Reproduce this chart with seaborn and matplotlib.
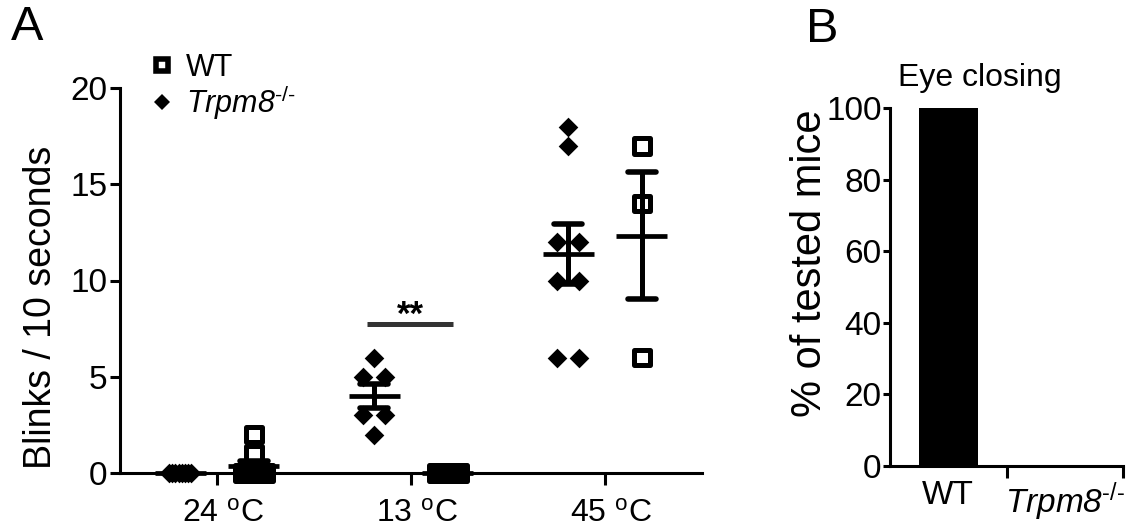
import numpy as np
import pandas as pd
import matplotlib
matplotlib.use("Agg")
import matplotlib.pyplot as plt
import matplotlib.transforms as mtransforms
from matplotlib.lines import Line2D
import seaborn as sns

# ---------------- data ----------------
temp_labels = [r"24 $^{\rm o}$C", r"13 $^{\rm o}$C", r"45 $^{\rm o}$C"]
trpm8_24 = [0, 0, 0, 0, 0, 0, 0, 0]
wt_24 = [2, 1, 0, 0, 0, 0, 0, 0]
trpm8_13 = [6, 5, 5, 3, 3, 2]
wt_13 = [0, 0, 0, 0, 0, 0, 0, 0]
trpm8_45 = [18, 17, 12, 12, 10, 10, 6, 6]
wt_45 = [17, 14, 6]
genotypes_b = ["WT", "Trpm8"]
eye_closing_pct = [100, 0]

KO_LABEL = r"Trpm8$^{\text{-/-}}$"

# ---------------- style ----------------
sns.set_style("ticks")
plt.rcParams["font.family"] = ["Liberation Sans", "DejaVu Sans"]
plt.rcParams["mathtext.fontset"] = "custom"
plt.rcParams["mathtext.rm"] = "Liberation Sans"
plt.rcParams["mathtext.it"] = "Liberation Sans:italic"
plt.rcParams["mathtext.bf"] = "Liberation Sans:bold"
plt.rcParams["axes.linewidth"] = 2.2
plt.rcParams["axes.edgecolor"] = "black"
plt.rcParams["xtick.color"] = "black"
plt.rcParams["ytick.color"] = "black"
plt.rcParams["xtick.labelcolor"] = "black"
plt.rcParams["ytick.labelcolor"] = "black"
plt.rcParams["xtick.major.width"] = 2.2
plt.rcParams["ytick.major.width"] = 2.2
plt.rcParams["xtick.minor.width"] = 2.2
plt.rcParams["text.color"] = "black"

W, H = 1137, 529
fig = plt.figure(figsize=(W / 100, H / 100), dpi=100)

def fx(px):
    return px / W

def fy(py):
    return 1 - py / H

# ---------------- Panel A ----------------
axA = fig.add_axes([fx(120), fy(473), fx(702) - fx(120), fy(88) - fy(473)])

groups = [
    (0, "Trpm8", trpm8_24), (0, "WT", wt_24),
    (1, "Trpm8", trpm8_13), (1, "WT", wt_13),
    (2, "Trpm8", trpm8_45), (2, "WT", wt_45),
]
offset = {"Trpm8": -0.19, "WT": 0.19}

rows = []
for ci, geno, vals in groups:
    center = ci + offset[geno]
    vals = np.asarray(vals, dtype=float)
    xs = np.zeros(len(vals))
    for v in np.unique(vals):
        idx = np.where(vals == v)[0]
        k = len(idx)
        span = min((k - 1) * 0.118, 0.115)
        xs[idx] = center + (np.linspace(-span / 2, span / 2, k) if k > 1 else 0)
    for x, v in zip(xs, vals):
        rows.append({"cat": ci, "geno": geno, "x": x, "value": v})
df = pd.DataFrame(rows)

sns.scatterplot(data=df[df.geno == "Trpm8"], x="x", y="value", marker="D",
                s=100, color="black", linewidth=0, ax=axA, legend=False,
                clip_on=False, zorder=3)
sns.scatterplot(data=df[df.geno == "WT"], x="x", y="value", marker="s",
                s=130, color="black", linewidth=3.6, ax=axA, legend=False,
                clip_on=False, zorder=3)
axA.collections[-1].set_facecolor("none")
axA.collections[-1].set_edgecolor("black")

# mean +/- SEM
for ci, geno, vals in groups:
    v = np.asarray(vals, dtype=float)
    m = v.mean()
    sem = v.std(ddof=1) / np.sqrt(len(v))
    c = ci + offset[geno]
    axA.hlines(m, c - 0.131, c + 0.131, colors="black", linewidth=3.4,
               zorder=4, clip_on=False)
    if sem > 0:
        axA.vlines(c, m - sem, m + sem, colors="black", linewidth=3.6, zorder=4)
        caps = axA.hlines([m - sem, m + sem], c - 0.072, c + 0.072,
                          colors="black", linewidth=4.0, zorder=4)
        caps.set_capstyle("round")

# significance bar
axA.plot([0.773, 1.216], [7.74, 7.74], color="#333333", linewidth=3.6,
         solid_capstyle="butt", zorder=4)
axA.text(0.995, 7.68, "**", ha="center", va="baseline", fontsize=25,
         fontweight="bold")

axA.set_xlim(-0.5, 2.5)
axA.set_ylim(0, 20)
axA.set_yticks([0, 5, 10, 15, 20])
axA.set_xticks([0, 1, 2])
axA.set_xticklabels(temp_labels)
axA.set_xlabel("")
axA.set_ylabel("")
axA.tick_params(axis="y", length=7, pad=2, labelsize=24)
axA.tick_params(axis="x", length=8.6, pad=10, labelsize=23)
shift = mtransforms.ScaledTranslation(6 / 100, 0, fig.dpi_scale_trans)
for lab in axA.get_xticklabels():
    lab.set_transform(lab.get_transform() + shift)
sns.despine(ax=axA)

handles = [
    Line2D([], [], linestyle="none", marker="s", markersize=9,
           markerfacecolor="none", markeredgecolor="black", markeredgewidth=4),
    Line2D([], [], linestyle="none", marker="D", markersize=8.5,
           markerfacecolor="black", markeredgecolor="black", markeredgewidth=0),
]
leg = axA.legend(handles, ["WT", KO_LABEL], loc="upper left",
                 bbox_to_anchor=(fx(148), fy(53)), bbox_transform=fig.transFigure,
                 frameon=False, fontsize=22, handlelength=0.9, handletextpad=0.35,
                 labelspacing=0.0, borderpad=0, borderaxespad=0)
leg.get_texts()[1].set_fontstyle("italic")

fig.text(fx(27), fy(27), "A", fontsize=35, ha="center", va="center")
fig.text(fx(41), fy(307), "Blinks / 10 seconds", fontsize=27, rotation=90,
         ha="center", va="center")

# ---------------- Panel B ----------------
axB = fig.add_axes([fx(890), fy(466), fx(1123) - fx(890), fy(108) - fy(466)])
df_b = pd.DataFrame({"genotype": genotypes_b, "pct": eye_closing_pct})
sns.barplot(data=df_b, x="genotype", y="pct", color="black", saturation=1,
            width=0.51, linewidth=0, ax=axB)
axB.set_xlim(-0.5, 1.5)
axB.set_ylim(0, 100)
axB.set_yticks([0, 20, 40, 60, 80, 100])
axB.set_xticks([0, 1])
axB.set_xticklabels(["WT", KO_LABEL])
axB.get_xticklabels()[1].set_fontstyle("italic")
axB.set_xticks([0.5, 1.5], minor=True)
axB.set_xlabel("")
axB.set_ylabel("")
axB.tick_params(axis="x", which="major", length=0, pad=10, labelsize=24)
axB.tick_params(axis="x", which="minor", length=8.6, width=2.2)
axB.tick_params(axis="y", length=5, pad=1, labelsize=24)
sns.despine(ax=axB)

fig.text(fx(822), fy(29), "B", fontsize=35, ha="center", va="center")
fig.text(fx(980), fy(78), "Eye closing", fontsize=23, ha="center", va="center")
fig.text(fx(810), fy(263), "% of tested mice", fontsize=30, rotation=90,
         ha="center", va="center")

fig.savefig("out.png", dpi=100)
